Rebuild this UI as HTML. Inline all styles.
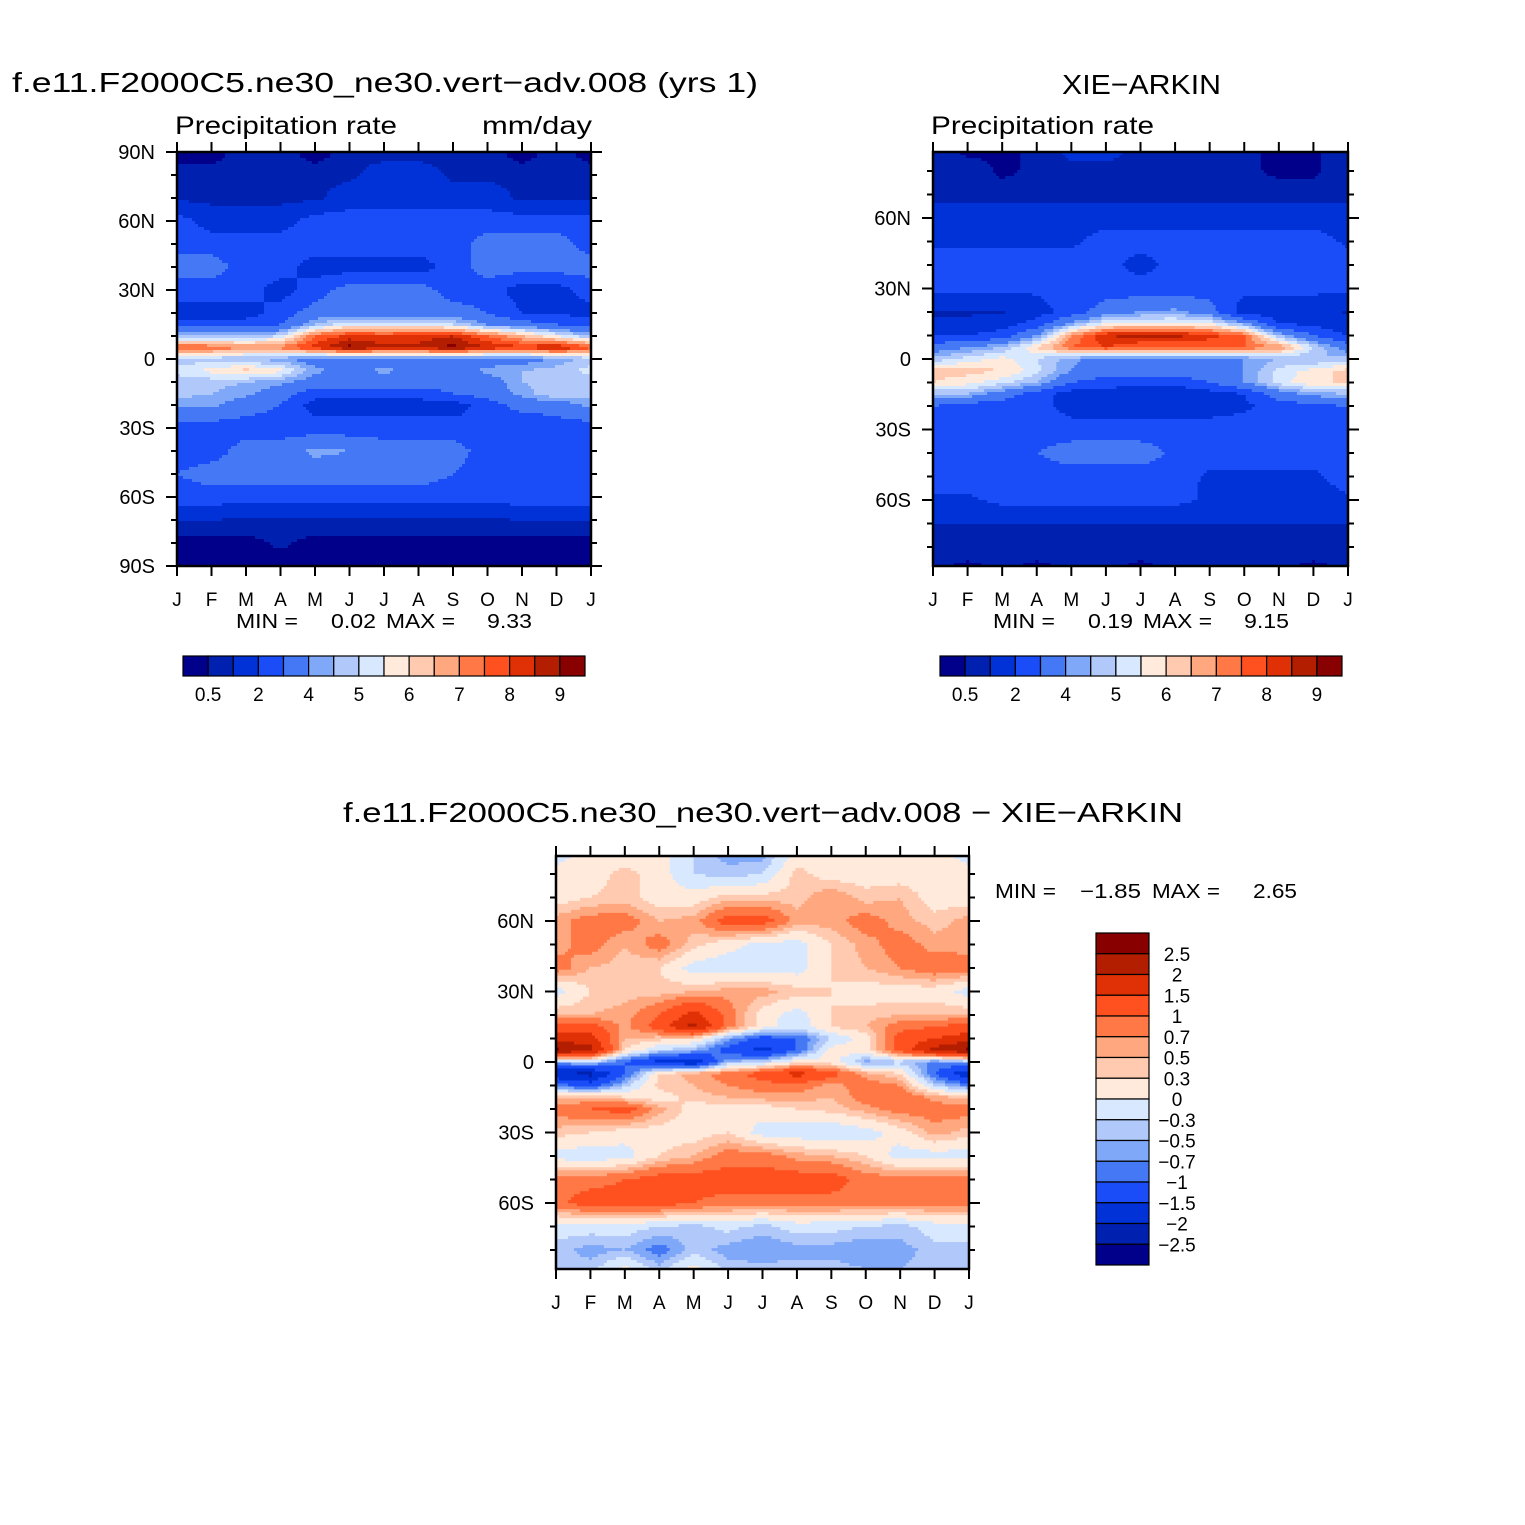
<!DOCTYPE html>
<html><head><meta charset="utf-8">
<style>
html,body{margin:0;padding:0;background:#fff;}
svg{display:block;}
text{font-family:"Liberation Sans",sans-serif;fill:#000;}
</style></head>
<body>
<svg id="chart" width="1525" height="1525" viewBox="0 0 1525 1525" xmlns="http://www.w3.org/2000/svg">
<rect x="0" y="0" width="1525" height="1525" fill="#fff"/>
<text x="12" y="92" font-size="28" textLength="746" lengthAdjust="spacingAndGlyphs">f.e11.F2000C5.ne30_ne30.vert−adv.008 (yrs 1)</text>
<text x="175" y="134" font-size="25" textLength="222" lengthAdjust="spacingAndGlyphs">Precipitation rate</text>
<text x="482" y="134" font-size="25" textLength="110" lengthAdjust="spacingAndGlyphs">mm/day</text>
<text x="1062" y="94" font-size="28" textLength="159" lengthAdjust="spacingAndGlyphs">XIE−ARKIN</text>
<text x="931" y="134" font-size="25" textLength="223" lengthAdjust="spacingAndGlyphs">Precipitation rate</text>
<text x="343" y="822" font-size="28" textLength="840" lengthAdjust="spacingAndGlyphs">f.e11.F2000C5.ne30_ne30.vert−adv.008 − XIE−ARKIN</text>
<g font-size="20">
<text x="236" y="628" textLength="62" lengthAdjust="spacingAndGlyphs">MIN =</text>
<text x="331" y="628" textLength="45" lengthAdjust="spacingAndGlyphs">0.02</text>
<text x="386" y="628" textLength="69" lengthAdjust="spacingAndGlyphs">MAX =</text>
<text x="487" y="628" textLength="45" lengthAdjust="spacingAndGlyphs">9.33</text>
</g>
<g font-size="20">
<text x="993" y="628" textLength="62" lengthAdjust="spacingAndGlyphs">MIN =</text>
<text x="1088" y="628" textLength="45" lengthAdjust="spacingAndGlyphs">0.19</text>
<text x="1143" y="628" textLength="69" lengthAdjust="spacingAndGlyphs">MAX =</text>
<text x="1244" y="628" textLength="45" lengthAdjust="spacingAndGlyphs">9.15</text>
</g>
<g font-size="20">
<text x="995" y="898" textLength="61" lengthAdjust="spacingAndGlyphs">MIN =</text>
<text x="1080" y="898" textLength="61" lengthAdjust="spacingAndGlyphs">−1.85</text>
<text x="1152" y="898" textLength="68" lengthAdjust="spacingAndGlyphs">MAX =</text>
<text x="1253" y="898" textLength="44" lengthAdjust="spacingAndGlyphs">2.65</text>
</g>
</svg>
<script>
const monthLabels = ["J","F","M","A","M","J","J","A","S","O","N","D","J"];
const lats = [88,80,70,60,50,40,30,20,15,10,5,0,-5,-10,-15,-20,-30,-40,-50,-60,-70,-80,-88];
const precipLevels = [0.5,1,2,3,4,4.5,5,5.5,6,6.5,7,7.5,8,8.5,9];
const diffLevels = [-2.5,-2,-1.5,-1,-0.7,-0.5,-0.3,0,0.3,0.5,0.7,1,1.5,2,2.5];
const precipLabels = ["0.5","2","4","5","6","7","8","9"];
const diffLabels = ["2.5","2","1.5","1","0.7","0.5","0.3","0","−0.3","−0.5","−0.7","−1","−1.5","−2","−2.5"];
const palette = ["#00008a","#0020b0","#0032d8","#1a4cf8","#4478f5","#80a8f8","#b0c8fa","#d8e8ff","#ffeadb","#ffcab0","#ffa880","#ff7845","#ff5020","#e03005","#b41e00","#880000"];

const modelData = [
[0.3,0.3,0.8,0.8,0.3,0.8,0.8,0.8,0.8,0.8,0.3,0.8],
[0.8,0.8,0.8,0.8,0.8,0.8,1.5,1.5,0.8,0.8,0.8,0.8],
[0.8,0.8,0.8,0.8,0.8,1.5,1.5,1.5,1.5,1.5,0.8,0.8],
[2.5,1.5,1.5,1.5,2.5,2.5,2.5,2.5,2.5,2.5,2.5,2.5],
[2.5,2.5,2.5,2.5,2.5,2.5,2.5,2.5,2.5,3.5,3.5,3.5],
[3.5,3.5,2.5,2.5,1.5,1.5,1.5,1.5,2.5,3.5,3.5,3.5],
[2.5,2.5,2.5,1.5,2.5,3.5,3.5,3.5,2.5,2.5,1.5,1.5],
[1.5,1.5,1.5,2.5,3.5,3.5,3.5,3.5,3.5,3.0,2.0,2.0],
[2.5,2.5,2.5,3.0,4.5,5.5,5.5,5.5,5.0,4.0,3.5,3.0],
[4.5,4.5,4.5,5.0,7.5,8.2,8.0,8.2,8.5,7.5,6.5,5.5],
[7.7,7.5,7.0,7.2,8.3,9.2,8.7,8.7,9.2,8.5,8.2,8.7],
[4.7,4.7,4.5,4.2,3.5,3.5,3.5,3.5,3.5,3.5,3.5,4.2],
[5.2,5.7,6.2,5.7,4.2,3.5,4.2,3.5,3.5,4.2,4.5,4.7],
[4.7,4.7,4.5,4.2,3.5,3.5,3.5,3.5,3.5,3.5,4.5,4.7],
[4.7,4.5,4.2,3.5,2.5,2.5,2.5,2.5,3.0,3.5,4.2,5.0],
[4.2,4.2,3.5,3.0,1.5,1.5,1.5,1.5,1.5,2.5,3.5,3.5],
[2.5,2.5,2.5,2.5,2.5,2.5,2.5,2.5,2.5,2.0,2.0,2.5],
[2.5,2.5,3.5,3.5,4.2,4.0,3.5,3.5,3.5,2.5,2.5,2.5],
[3.0,3.5,3.5,3.5,3.5,3.5,3.5,3.5,3.0,2.5,2.5,2.5],
[2.5,2.5,2.5,2.5,2.5,2.5,2.5,2.5,2.5,2.5,2.5,2.5],
[1.0,1.0,0.9,0.9,0.9,0.9,0.9,0.9,0.9,0.9,1.0,1.0],
[0.3,0.3,0.3,0.6,0.3,0.3,0.3,0.3,0.3,0.3,0.3,0.3],
[0.3,0.3,0.3,0.3,0.3,0.3,0.3,0.3,0.3,0.3,0.3,0.3]
];
const obsData = [
[0.8,0.4,0.4,0.6,1.2,1.2,0.8,0.8,0.8,0.6,0.4,0.4],
[0.8,0.8,0.4,0.6,0.8,0.8,0.8,0.8,0.8,0.6,0.4,0.4],
[0.7,0.7,0.7,0.7,0.7,0.7,0.7,0.7,0.7,0.7,0.7,0.7],
[1.5,1.5,1.5,1.5,1.5,1.5,1.5,1.5,1.5,1.5,1.5,1.5],
[1.8,1.8,1.8,1.8,1.8,2.5,2.5,2.5,2.5,2.5,2.5,2.5],
[2.5,2.5,2.5,2.5,2.5,2.5,1.5,2.5,2.5,2.5,3.0,2.8],
[2.2,2.2,2.2,2.2,2.5,2.5,2.5,2.5,2.5,2.2,2.2,2.2],
[0.9,0.9,0.9,1.5,2.5,3.5,4.0,4.2,3.5,1.5,1.5,1.5],
[1.2,1.2,1.5,2.5,4.2,5.5,5.7,5.7,5.5,4.2,2.0,1.8],
[2.0,2.0,2.5,4.0,7.0,8.5,8.7,8.7,8.2,7.5,4.5,3.0],
[3.5,4.0,4.5,6.0,7.5,8.0,7.5,7.5,7.5,7.5,7.0,5.0],
[4.7,5.2,5.7,5.0,4.2,3.5,3.5,3.5,3.5,4.0,4.5,4.5],
[6.2,6.2,6.0,5.2,4.0,3.5,3.5,3.5,3.5,4.0,5.2,5.7],
[6.0,5.7,5.2,4.5,3.0,2.5,2.5,2.5,3.0,4.0,5.2,6.0],
[4.5,4.5,3.5,2.5,1.5,1.5,0.9,0.9,1.5,2.0,3.5,4.2],
[3.0,2.5,2.5,2.5,1.5,1.5,1.5,1.5,1.5,1.8,2.5,2.8],
[2.5,2.5,2.5,2.5,2.5,2.5,2.5,2.5,2.5,2.5,2.5,2.5],
[2.5,2.5,2.5,3.0,3.5,3.5,3.5,2.8,2.5,2.5,2.5,2.5],
[2.5,2.5,2.5,2.5,2.5,2.5,2.5,2.5,1.8,1.8,1.8,1.8],
[1.8,1.8,2.3,2.3,2.3,2.3,2.3,2.3,1.8,1.5,1.5,1.5],
[1.0,1.0,1.0,1.0,1.0,1.0,1.0,1.0,1.0,1.0,1.0,1.0],
[0.8,0.8,0.8,0.8,0.8,0.8,0.8,0.8,0.8,0.8,0.8,0.8],
[0.6,0.4,0.6,0.4,0.6,0.6,0.4,0.6,0.6,0.6,0.6,0.4]
];
const diffData = [
[-0.15,0.15,0.15,0.15,-0.3,-0.6,-0.6,0.15,0.15,0.15,0.15,0.15],
[0.15,0.15,0.4,0.15,-0.3,-0.4,-0.3,0.4,0.15,0.15,0.15,0.15],
[0.15,0.3,0.4,0.15,0.15,0.4,0.4,0.4,0.7,0.4,0.5,0.15],
[0.6,0.85,0.85,0.5,0.6,1.2,1.2,0.6,0.6,0.85,0.6,0.4],
[0.6,0.85,0.5,0.85,0.4,0.1,-0.1,-0.15,0.3,0.6,0.85,0.6],
[0.85,0.5,0.4,0.3,-0.15,-0.2,-0.15,-0.15,0.3,0.5,0.7,0.9],
[-0.15,0.3,0.4,0.4,0.5,0.6,0.6,0.4,0.3,0.15,0.15,0.15],
[0.5,0.5,0.6,1.0,1.7,0.85,0.15,-0.15,0.3,0.4,0.5,0.5],
[1.2,1.2,0.6,1.2,2.2,0.85,0.15,-0.2,0.3,0.5,0.85,1.0],
[1.8,1.7,0.5,0.4,0.3,-0.6,-1.2,-1.0,-0.3,0.15,1.2,1.5],
[2.6,2.2,0.3,-0.3,-0.5,-1.2,-1.7,-1.0,0.15,0.15,1.2,2.2],
[-0.5,-0.3,-1.0,-1.7,-2.0,-0.5,-0.3,0.15,0.15,-0.6,-0.4,-0.8],
[-2.0,-2.2,-1.0,0.3,0.6,0.85,1.2,1.7,1.2,0.6,0.3,-1.0],
[-0.8,-1.2,-0.4,0.4,0.5,0.7,0.85,0.85,0.6,0.85,0.7,-0.3],
[0.4,0.5,0.3,0.15,0.4,0.5,0.6,0.6,0.5,0.85,1.0,0.6],
[0.85,1.0,1.2,0.6,0.15,0.15,0.15,0.3,0.4,0.6,0.85,0.85],
[0.4,0.3,0.15,0.15,0.15,0.3,-0.15,-0.2,-0.3,-0.15,0.15,0.6],
[-0.15,-0.2,-0.15,0.3,0.5,0.85,0.85,0.6,0.5,0.3,-0.15,-0.15],
[0.85,0.85,1.0,1.2,1.2,1.2,1.2,1.2,1.2,0.85,0.85,0.85],
[0.9,1.2,1.2,1.2,1.0,0.85,0.85,0.85,0.85,0.85,0.85,0.85],
[-0.15,-0.15,-0.15,-0.3,-0.4,-0.2,-0.4,-0.15,-0.2,-0.3,-0.4,-0.15],
[-0.4,-0.6,-0.5,-0.85,-0.4,-0.6,-0.7,-0.6,-0.6,-0.7,-0.6,-0.4],
[-0.4,-0.4,0.1,-0.4,0.1,-0.4,-0.4,-0.4,-0.4,-0.5,-0.5,-0.4]
];

const NS = "http://www.w3.org/2000/svg";
const svg = document.getElementById("chart");
function mk(tag, attrs, parent) {
  const e = document.createElementNS(NS, tag);
  for (const k in attrs) e.setAttribute(k, attrs[k]);
  (parent || svg).appendChild(e);
  return e;
}
function levelIndex(v, levels) {
  let i = 0;
  while (i < levels.length && v >= levels[i]) i++;
  return i;
}
function sample(data, lat, t) {
  let k = 0;
  if (lat >= lats[0]) { k = 0; lat = lats[0]; }
  else if (lat <= lats[lats.length - 1]) { k = lats.length - 2; lat = lats[lats.length - 1]; }
  else { while (!(lats[k] >= lat && lat >= lats[k + 1])) k++; }
  const fy = (lats[k] - lat) / (lats[k] - lats[k + 1]);
  const m0 = Math.floor(t) % 12, m1 = (m0 + 1) % 12, fx = t - Math.floor(t);
  const a = data[k][m0] * (1 - fx) + data[k][m1] * fx;
  const b = data[k + 1][m0] * (1 - fx) + data[k + 1][m1] * fx;
  return a * (1 - fy) + b * fy;
}
function drawPanel(p) {
  const g = mk("g", {});
  
  
  const w = p.x1 - p.x0, h = p.y1 - p.y0;
  const xScale = t => p.x0 + t / 12 * w;
  const yScale = lat => p.yEq - lat * p.pxPerDeg;
  const latOf = y => (p.yEq - y) / p.pxPerDeg;
  const nx = 138, ny = 138;
  const cw = w / nx, ch = h / ny;
  const field = mk("g", {}, g);
  
  
  for (let j = 0; j < ny; j++) {
    const lat = latOf(p.y0 + (j + 0.5) * ch);
    let start = 0, cur = -1;
    for (let i = 0; i <= nx; i++) {
      let ci = -1;
      if (i < nx) ci = levelIndex(sample(p.data, lat, (i + 0.5) / nx * 12), p.levels);
      if (ci !== cur) {
        if (cur >= 0) {
          const r = mk("rect", {x: (p.x0 + start * cw).toFixed(2), y: (p.y0 + j * ch).toFixed(2), width: ((i - start) * cw + 0.6).toFixed(2), height: (ch + 0.6).toFixed(2), fill: palette[cur]}, field);
          
          
        }
        start = i; cur = ci;
      }
    }
  }
  const frame = mk("rect", {x: p.x0, y: p.y0, width: w, height: h, fill: "none", stroke: "#000", "stroke-width": 2.5}, g);
  
  
  for (let m = 0; m <= 12; m++) {
    const x = xScale(m);
    const t1 = mk("line", {x1: x, x2: x, y1: p.y0, y2: p.y0 - 10, stroke: "#000", "stroke-width": 2}, g);
    
    
    const t2 = mk("line", {x1: x, x2: x, y1: p.y1, y2: p.y1 + 10, stroke: "#000", "stroke-width": 2}, g);
    
    
    const lb = mk("text", {x: x, y: p.y1 + 40, "font-size": 19, "text-anchor": "middle"}, g);
    lb.textContent = monthLabels[m];
    
    
  }
  for (let lat = -90; lat <= 90; lat += 10) {
    const y = yScale(lat);
    if (y < p.y0 - 0.5 || y > p.y1 + 0.5) continue;
    const major = lat % 30 === 0;
    const len = major ? 11 : 6;
    const a = mk("line", {x1: p.x0, x2: p.x0 - len, y1: y, y2: y, stroke: "#000", "stroke-width": 2}, g);
    
    
    const b = mk("line", {x1: p.x1, x2: p.x1 + len, y1: y, y2: y, stroke: "#000", "stroke-width": 2}, g);
    
    
    if (major) {
      const lb = mk("text", {x: p.x0 - 22, y: y + 7, "font-size": 20, "text-anchor": "end"}, g);
      lb.textContent = lat > 0 ? lat + "N" : (lat < 0 ? (-lat) + "S" : "0");
      
      
    }
  }
}
function hColorbar(name, x0, y0, x1, y1) {
  const g = mk("g", {});
  
  
  const bw = (x1 - x0) / palette.length;
  palette.forEach((c, i) => {
    const r = mk("rect", {x: x0 + i * bw, y: y0, width: bw, height: y1 - y0, fill: c, stroke: "#000", "stroke-width": 1.2}, g);
    
    
  });
  precipLabels.forEach((s, k) => {
    const t = mk("text", {x: x0 + (2 * k + 1) * bw, y: y1 + 25, "font-size": 19, "text-anchor": "middle"}, g);
    t.textContent = s;
    
    
  });
}
function vColorbar(name, x0, y0, x1, y1) {
  const g = mk("g", {});
  
  
  const bh = (y1 - y0) / palette.length;
  for (let i = 0; i < palette.length; i++) {
    const r = mk("rect", {x: x0, y: y0 + i * bh, width: x1 - x0, height: bh, fill: palette[palette.length - 1 - i], stroke: "#000", "stroke-width": 1.2}, g);
    
    
  }
  diffLabels.forEach((s, k) => {
    const t = mk("text", {x: 1177, y: y0 + (k + 1) * bh + 7, "font-size": 19, "text-anchor": "middle"}, g);
    t.textContent = s;
    
    
  });
}
drawPanel({name: "model-panel", x0: 177, x1: 591, y0: 152, y1: 566, yEq: 359, pxPerDeg: 2.3, data: modelData, levels: precipLevels});
drawPanel({name: "obs-panel", x0: 933, x1: 1348, y0: 152, y1: 566, yEq: 359, pxPerDeg: 2.35, data: obsData, levels: precipLevels});
drawPanel({name: "diff-panel", x0: 556, x1: 969, y0: 856, y1: 1269, yEq: 1062, pxPerDeg: 2.35, data: diffData, levels: diffLevels});
hColorbar("model-colorbar", 183, 656, 585, 676);
hColorbar("obs-colorbar", 940, 656, 1342, 676);
vColorbar("diff-colorbar", 1096, 933, 1149, 1265);
</script>
</body></html>
